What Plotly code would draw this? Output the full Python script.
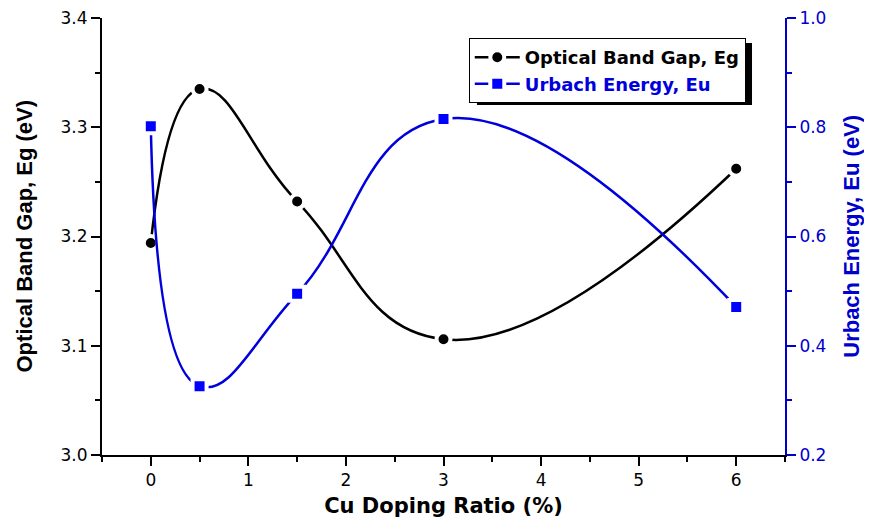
import plotly.graph_objects as go

# ---- data ----
cu_ratio = [0, 0.5, 1.5, 3, 6]
band_gap = [3.194, 3.335, 3.232, 3.106, 3.262]
urbach = [0.802, 0.326, 0.495, 0.815, 0.471]

x_ticks = [0, 1, 2, 3, 4, 5, 6]

BLACK = "#000000"
BLUE = "#0000DD"
AXBLUE = "#0000CC"

fig = go.Figure()

fig.add_trace(go.Scatter(
    x=cu_ratio, y=band_gap, mode="lines+markers",
    name='<span style="color:#000000">Optical Band Gap, Eg</span>',
    line=dict(color=BLACK, width=2.5, shape="spline", smoothing=1.3),
    marker=dict(symbol="circle", size=14, color=BLACK, line=dict(color="white", width=4)),
    xaxis="x", yaxis="y",
))
fig.add_trace(go.Scatter(
    x=cu_ratio, y=urbach, mode="lines+markers",
    name='<span style="color:#0000DD">Urbach Energy, Eu</span>',
    line=dict(color=BLUE, width=2.5, shape="spline", smoothing=1.3),
    marker=dict(symbol="square", size=14, color="#0000FF", line=dict(color="white", width=4)),
    xaxis="x", yaxis="y2",
))

tickfont = dict(family="DejaVu Sans", size=17, color=BLACK)

fig.update_layout(
    width=856, height=510,
    margin=dict(l=94, r=79, t=10, b=63, autoexpand=False),
    paper_bgcolor="white", plot_bgcolor="white",
    showlegend=True,
    legend=dict(
        x=0.537, y=0.954, xanchor="left", yanchor="top",
        bgcolor="white", bordercolor=BLACK, borderwidth=1,
        font=dict(family="DejaVu Sans", size=18, weight="bold", color=BLACK),
        itemwidth=45, tracegroupgap=0,
    ),
    xaxis=dict(
        range=[-0.5, 6.5], tickmode="array", tickvals=x_ticks,
        ticktext=[str(v) for v in x_ticks], automargin=False,
        ticklabeloverflow="allow",
        ticks="outside", ticklen=9, tickwidth=1.5, tickcolor=BLACK,
        minor=dict(dtick=0.5, tick0=0, ticks="outside", ticklen=5, tickwidth=1.5, tickcolor=BLACK),
        showline=True, linecolor=BLACK, linewidth=2,
        showgrid=False, zeroline=False,
        tickfont=tickfont,
        title=dict(text="Cu Doping Ratio (%)",
                   font=dict(family="DejaVu Sans", size=21, weight="bold", color=BLACK),
                   standoff=12),
    ),
    xaxis2=dict(
        range=[-0.5, 6.5], overlaying="x", side="top", anchor="y", automargin=False,
        tickmode="linear", tick0=0, dtick=0.5,
        ticks="inside", ticklen=8, tickwidth=1.5, tickcolor=AXBLUE,
        showticklabels=False, showline=True, linecolor=AXBLUE, linewidth=2,
        showgrid=False, zeroline=False,
    ),
    yaxis=dict(
        range=[3.0, 3.4], tickmode="linear", tick0=3.0, dtick=0.1, tickformat=".1f",
        automargin=False, ticklabeloverflow="allow",
        ticks="outside", ticklen=9, tickwidth=1.5, tickcolor=BLACK,
        minor=dict(dtick=0.05, ticks="outside", ticklen=5, tickwidth=1.5, tickcolor=BLACK),
        showline=True, linecolor=BLACK, linewidth=2,
        showgrid=False, zeroline=False,
        tickfont=tickfont,
    ),
    yaxis2=dict(
        range=[0.2, 1.0], overlaying="y", side="right", anchor="x", automargin=False,
        ticklabeloverflow="allow",
        tickmode="linear", tick0=0.2, dtick=0.2, tickformat=".1f",
        ticks="outside", ticklen=9, tickwidth=1.5, tickcolor=AXBLUE,
        minor=dict(dtick=0.1, ticks="outside", ticklen=5, tickwidth=1.5, tickcolor=AXBLUE),
        showline=True, linecolor=AXBLUE, linewidth=2,
        showgrid=False, zeroline=False,
        tickfont=dict(family="DejaVu Sans", size=17, color=AXBLUE),
    ),
    annotations=[
        dict(text="Optical Band Gap, Eg (eV)", xref="paper", yref="paper",
             x=-0.1142, y=0.5, xanchor="center", yanchor="middle", textangle=-90,
             showarrow=False,
             font=dict(family="Liberation Sans", size=22, weight="bold", color=BLACK)),
        dict(text="Urbach Energy, Eu (eV)", xref="paper", yref="paper",
             x=1.097, y=0.5, xanchor="center", yanchor="middle", textangle=-90,
             showarrow=False,
             font=dict(family="Liberation Sans", size=22, weight="bold", color=AXBLUE)),
    ],
    shapes=[dict(
        type="rect", xref="paper", yref="paper",
        x0=0.549, x1=0.9517, y0=0.8009, y1=0.9428,
        fillcolor=BLACK, line=dict(width=0), layer="above",
    )],
)

fig.write_html("out.html")
